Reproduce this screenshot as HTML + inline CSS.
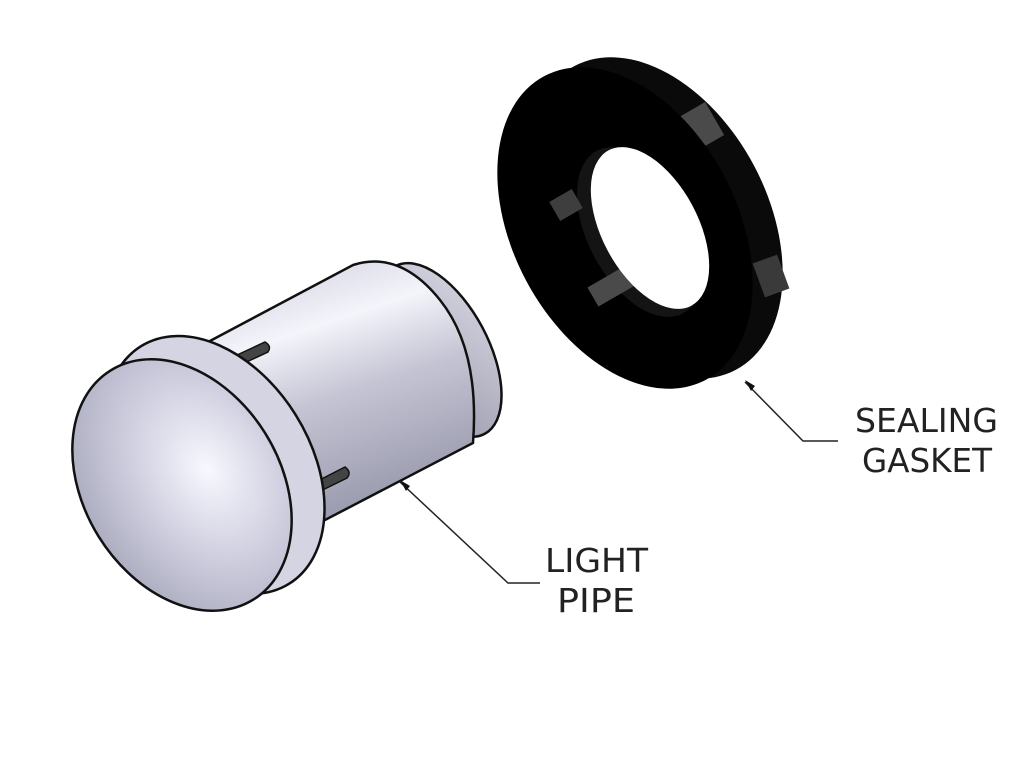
<!DOCTYPE html>
<html><head><style>
html,body{margin:0;padding:0;background:#fff;}
svg{display:block;}
text{font-family:"DejaVu Sans","Liberation Sans",sans-serif;fill:#222;font-size:33px;}
</style></head><body>
<svg width="1024" height="768" viewBox="0 0 1024 768" xmlns="http://www.w3.org/2000/svg">
<defs>
<linearGradient id="body" x1="0" y1="0" x2="0.35" y2="1">
<stop offset="0" stop-color="#c8c8d8"/>
<stop offset="0.35" stop-color="#f4f4fb"/>
<stop offset="0.6" stop-color="#c4c4d4"/>
<stop offset="1" stop-color="#9a9aae"/>
</linearGradient>
<radialGradient id="head" cx="0.5" cy="0.35" r="0.7">
<stop offset="0" stop-color="#f8f8ff"/>
<stop offset="0.5" stop-color="#cfcfe0"/>
<stop offset="1" stop-color="#a8a8bc"/>
</radialGradient>
<linearGradient id="cap" x1="0" y1="0" x2="1" y2="1">
<stop offset="0" stop-color="#d8d8e4"/>
<stop offset="1" stop-color="#9898aa"/>
</linearGradient>
</defs>

<!-- Gasket -->
<ellipse cx="655" cy="218" rx="172" ry="112" transform="rotate(62 655 218)" fill="#0a0a0a"/>
<rect x="668" y="112" width="50" height="38" fill="#4a4a4a" transform="rotate(-30 693 131)"/>
<rect x="758" y="258" width="26" height="36" fill="#3a3a3a" transform="rotate(-20 771 276)"/>
<ellipse cx="625" cy="228" rx="172" ry="112" transform="rotate(62 625 228)" fill="#000"/>
<ellipse cx="640" cy="232" rx="92" ry="52" transform="rotate(62 640 232)" fill="#141414"/>
<rect x="553" y="194" width="26" height="22" fill="#3e3e3e" transform="rotate(-30 566 205)"/>
<rect x="590" y="275" width="44" height="22" fill="#4a4a4a" transform="rotate(-30 612 286)"/>
<ellipse cx="650" cy="228" rx="88" ry="48" transform="rotate(62 650 228)" fill="#fff"/>

<!-- Light pipe body -->
<ellipse cx="440" cy="350" rx="95" ry="48" transform="rotate(62 440 350)" fill="url(#cap)" stroke="#111" stroke-width="2.5"/>
<path d="M193 350 L353 265 Q400 250 440 300 Q480 350 473 443 L300 533 Z" fill="url(#body)" stroke="#111" stroke-width="2.5"/>
<!-- slots -->
<path d="M222 362 L265 342 Q272 346 268 352 L225 372 Z" fill="#444" stroke="#111" stroke-width="1.5"/>
<path d="M300 490 L345 467 Q352 472 347 478 L302 500 Z" fill="#444" stroke="#111" stroke-width="1.5"/>
<!-- flange -->
<ellipse cx="215" cy="465" rx="140" ry="95" transform="rotate(58 215 465)" fill="#d4d4e2" stroke="#111" stroke-width="2.5"/>
<!-- head -->
<ellipse cx="182" cy="485" rx="135" ry="98" transform="rotate(58 182 485)" fill="url(#head)" stroke="#111" stroke-width="2.5"/>

<!-- leaders -->
<polyline points="745,382 803,441 838,441" fill="none" stroke="#222" stroke-width="1.5"/>
<polygon points="745,380 755,386 751,391" fill="#111"/>
<polyline points="400,482 508,583 540,583" fill="none" stroke="#222" stroke-width="1.5"/>
<polygon points="400,480 410,486 406,491" fill="#111"/>

<text x="855" y="432" textLength="143" lengthAdjust="spacingAndGlyphs">SEALING</text>
<text x="862" y="472" textLength="130" lengthAdjust="spacingAndGlyphs">GASKET</text>
<text x="545" y="572" textLength="103" lengthAdjust="spacingAndGlyphs">LIGHT</text>
<text x="557" y="612" textLength="78" lengthAdjust="spacingAndGlyphs">PIPE</text>
</svg>
</body></html>
